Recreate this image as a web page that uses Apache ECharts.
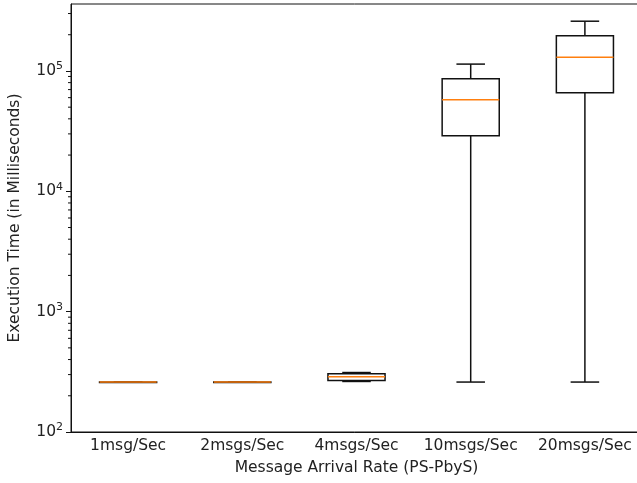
<!DOCTYPE html>
<html lang="en">
<head>
	<meta charset="UTF-8">
	<title>Execution time box plot</title>
	<script src="https://cdn.jsdelivr.net/npm/echarts@6/dist/echarts.min.js"></script>
	<style>
		html, body { margin: 0; padding: 0; background: #fff; }
		#chart { width: 637px; height: 483px; }
	</style>
</head>
<body>
	<div id="chart"></div>
<script>
var categories = ['1msg/Sec', '2msgs/Sec', '4msgs/Sec', '10msgs/Sec', '20msgs/Sec'];
var whiskerLow = [260, 260, 263, 260, 260];
var q1 = [260, 260, 268, 29000, 66000];
var median = [260, 260, 288, 57500, 130000];
var q3 = [260, 260, 305, 86000, 196000];
var whiskerHigh = [260, 260, 312, 114000, 259000];
var minorTicks = [200, 300, 400, 500, 600, 700, 800, 900,
    2000, 3000, 4000, 5000, 6000, 7000, 8000, 9000,
    20000, 30000, 40000, 50000, 60000, 70000, 80000, 90000,
    200000, 300000];

var boxData = categories.map(function (c, i) {
    return [i, whiskerLow[i], q1[i], median[i], q3[i], whiskerHigh[i]];
});

var font = 'DejaVu Sans';
var ink = '#222';

var myChart = echarts.init(document.getElementById('chart'));

function renderBox(params, api) {
    var x = api.value(0);
    var band = api.size([1, 0])[0];
    var half = band * 0.25, capHalf = band * 0.125;
    var cx = api.coord([x, api.value(3)])[0];
    var yLow = api.coord([x, api.value(1)])[1];
    var yQ1 = api.coord([x, api.value(2)])[1];
    var yMed = api.coord([x, api.value(3)])[1];
    var yQ3 = api.coord([x, api.value(4)])[1];
    var yHigh = api.coord([x, api.value(5)])[1];
    var line = { stroke: '#111', lineWidth: 1.5, fill: null };
    return {
        type: 'group',
        children: [
            { type: 'line', shape: { x1: cx, y1: yLow, x2: cx, y2: yQ1 }, style: line },
            { type: 'line', shape: { x1: cx, y1: yQ3, x2: cx, y2: yHigh }, style: line },
            { type: 'line', shape: { x1: cx - capHalf, y1: yLow, x2: cx + capHalf, y2: yLow }, style: line },
            { type: 'line', shape: { x1: cx - capHalf, y1: yHigh, x2: cx + capHalf, y2: yHigh }, style: line },
            { type: 'rect', shape: { x: cx - half, y: yQ3, width: half * 2, height: Math.max(yQ1 - yQ3, 0.5) }, style: line },
            { type: 'line', shape: { x1: cx - half, y1: yMed, x2: cx + half, y2: yMed }, style: { stroke: '#ff7f0e', lineWidth: 1.5 } }
        ]
    };
}

function renderMinor(params, api) {
    var y = api.coord([0, api.value(1)])[1];
    var x0 = params.coordSys.x;
    return {
        type: 'line',
        shape: { x1: x0 - 3, y1: y, x2: x0, y2: y },
        style: { stroke: '#111', lineWidth: 1 }
    };
}

var option = {
    animation: false,
    grid: {
        left: 71, top: 4, width: 571, height: 428,
        outerBoundsMode: 'none',
        containLabel: false,
        show: true, borderColor: '#111', borderWidth: 1, backgroundColor: 'transparent'
    },
    xAxis: {
        type: 'category',
        data: categories,
        name: 'Message Arrival Rate (PS-PbyS)',
        nameLocation: 'middle',
        nameGap: 28,
        nameTextStyle: { fontFamily: font, fontSize: 15.5, color: ink },
        axisLine: { lineStyle: { color: '#111', width: 1 } },
        axisTick: { alignWithLabel: true, length: 5, lineStyle: { color: '#111' } },
        axisLabel: { interval: 0, hideOverlap: false, fontFamily: font, fontSize: 15.5, color: ink, margin: 6 },
        splitLine: { show: false }
    },
    yAxis: {
        type: 'log',
        logBase: 10,
        min: 100,
        max: 360000,
        name: 'Execution Time (in Milliseconds)',
        nameLocation: 'middle',
        nameGap: 48,
        nameTextStyle: { fontFamily: font, fontSize: 15.5, color: ink },
        axisLine: { show: true, lineStyle: { color: '#111', width: 1 } },
        axisTick: { show: true, length: 5, lineStyle: { color: '#111' } },
        axisLabel: {
            showMaxLabel: false,
            margin: 8,
            color: ink,
            formatter: function (v) {
                var e = Math.round(Math.log10(v));
                return '{b|10}{s|' + e + '}';
            },
            rich: {
                b: { fontFamily: font, fontSize: 15.5, color: ink },
                s: { fontFamily: font, fontSize: 11, color: ink, padding: [0, 0, 9, 0] }
            }
        },
        splitLine: { show: false }
    },
    series: [
        {
            type: 'custom',
            renderItem: renderMinor,
            data: minorTicks.map(function (v) { return [0, v]; }),
            encode: { x: 0, y: 1 },
            clip: false,
            silent: true
        },
        {
            type: 'custom',
            renderItem: renderBox,
            data: boxData,
            encode: { x: 0, y: [1, 2, 3, 4, 5] },
            silent: true
        }
    ]
};

myChart.setOption(option);
</script>
</body>
</html>
